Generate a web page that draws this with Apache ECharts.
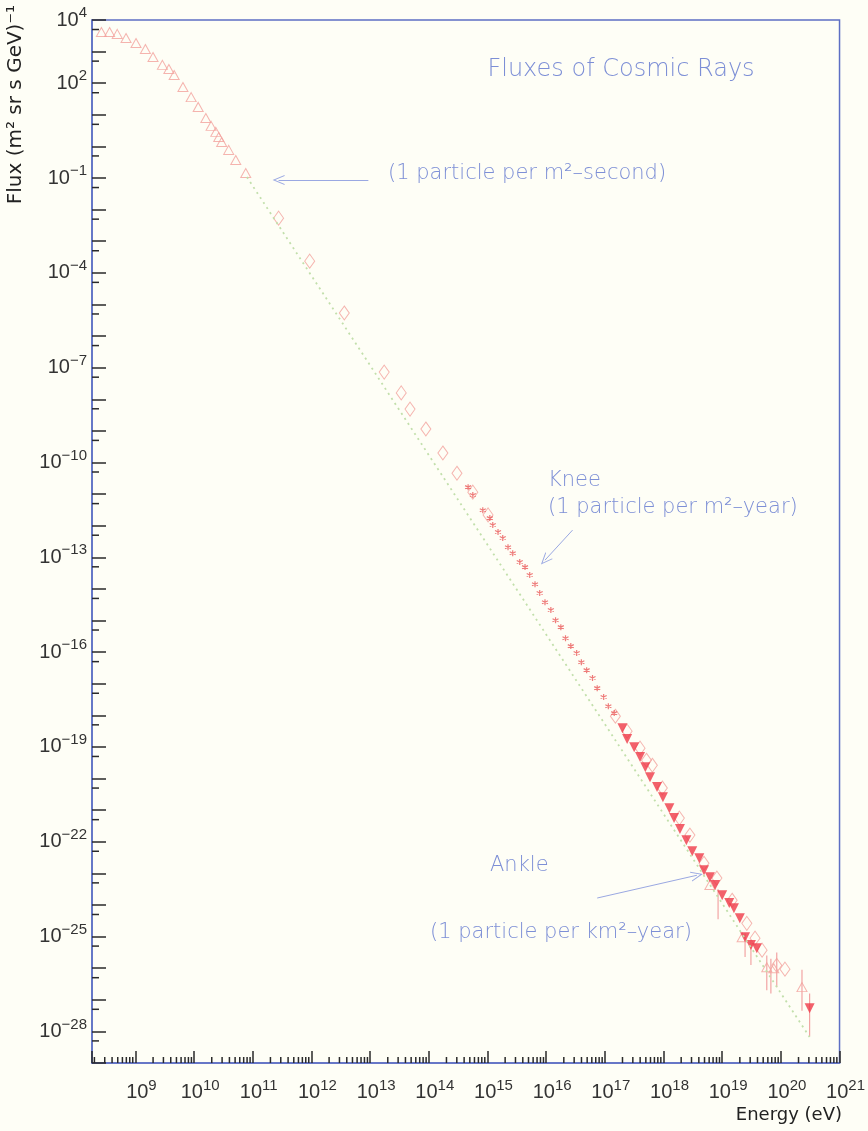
<!DOCTYPE html>
<html><head><meta charset="utf-8">
<script src="https://cdn.jsdelivr.net/npm/echarts@6/dist/echarts.min.js"></script>
<style>html,body{margin:0;padding:0;background:#fefef6}#c{width:868px;height:1131px}</style>
</head><body><div id="c"></div><script>
// ---- axis ranges / tick labels (log10 units) ----
const X_MIN = 8.26, X_MAX = 21;
const Y_MIN = -29, Y_MAX = 4;
const xLabelExps = [9,10,11,12,13,14,15,16,17,18,19,20,21];
const yLabelExps = [4,2,-1,-4,-7,-10,-13,-16,-19,-22,-25,-28];
const xMinorMultipliers = [2,3,4,5,6,7,8,9];
const yMinorMultipliers = [5];

// ---- data: [log10(E/eV), log10(flux)] ----
const openTriangles = [
  [8.42,3.62],[8.56,3.62],[8.69,3.56],[8.84,3.43],[9.01,3.27],[9.17,3.08],[9.30,2.83],
  [9.46,2.58],[9.57,2.45],[9.66,2.26],[9.81,1.88],[9.95,1.56],[10.07,1.25],[10.20,0.90],
  [10.29,0.65],[10.37,0.46],[10.42,0.30],[10.47,0.14],[10.59,-0.11],[10.71,-0.43],[10.88,-0.84],
  [18.79,-23.37],[19.34,-25.02],[19.76,-25.97],[19.88,-26.00],[20.36,-26.60]
];
const openDiamonds = [
  [11.44,-2.27],[11.97,-3.63],[12.56,-5.27],[13.24,-7.14],[13.53,-7.80],[13.68,-8.31],
  [13.95,-8.94],[14.24,-9.70],[14.48,-10.34],[14.75,-10.94],[15.01,-11.66],
  [17.18,-18.03],[17.38,-18.50],[17.60,-19.04],[17.71,-19.42],[17.81,-19.58],[17.98,-20.30],
  [18.27,-21.25],[18.45,-21.79],[18.69,-22.68],[18.91,-23.15],[19.17,-23.85],
  [19.42,-24.58],[19.56,-25.05],[19.68,-25.43],[19.93,-25.91],[20.07,-26.03]
];
const stars = [
  [14.67,-10.78],[14.75,-11.03],[14.92,-11.51],[15.04,-11.76],[15.09,-11.98],[15.18,-12.20],
  [15.26,-12.39],[15.35,-12.68],[15.43,-12.87],[15.55,-13.15],[15.64,-13.31],[15.72,-13.56],
  [15.81,-13.85],[15.89,-14.13],[15.98,-14.42],[16.08,-14.67],[16.16,-14.99],[16.25,-15.21],
  [16.33,-15.56],[16.42,-15.81],[16.52,-16.03],[16.60,-16.32],[16.69,-16.57],[16.79,-16.82],
  [16.87,-17.14],[16.98,-17.42],[17.06,-17.71],[17.16,-17.93]
];
const filledTriangles = [
  [17.30,-18.41],[17.38,-18.75],[17.50,-19.01],[17.60,-19.32],[17.69,-19.64],[17.77,-19.96],
  [17.89,-20.27],[17.99,-20.59],[18.10,-20.94],[18.18,-21.25],[18.28,-21.60],[18.39,-21.95],
  [18.49,-22.30],[18.61,-22.52],[18.69,-22.90],[18.79,-23.12],[18.88,-23.37],[19.00,-23.69],
  [19.12,-23.94],[19.20,-24.10],[19.30,-24.42],[19.39,-25.02],[19.49,-25.27],[19.59,-25.37],
  [20.49,-27.27]
];
// [log10 E, low, high]
const errorBars = [
  [18.93,-24.45,-23.50],[19.39,-25.65,-24.90],[19.49,-25.90,-25.10],[19.76,-26.70,-25.60],
  [19.83,-26.80,-25.70],[19.93,-26.60,-25.50],[20.36,-27.35,-26.05],[20.49,-28.15,-26.80]
];
const refLine = [[10.90,-0.97],[20.49,-28.18]];
// arrows: [from, to]
const arrows = [
  [[12.97,-1.06],[11.44,-1.06]],
  [[16.45,-12.14],[15.98,-13.09]],
  [[16.87,-23.78],[18.57,-23.06]]
];

// ---- derived tick positions ----
const xMinorTicks = [];
for (let n = Math.floor(X_MIN); n < X_MAX; n++) xMinorMultipliers.forEach(k => {
  const v = n + Math.log10(k); if (v > X_MIN && v < X_MAX) xMinorTicks.push([v, Y_MIN]);
});
const yMinorTicks = [];
for (let n = Y_MIN; n <= Y_MAX; n++) yMinorMultipliers.forEach(k => {
  const v = n - 1 + Math.log10(k); if (v > Y_MIN && v < Y_MAX) yMinorTicks.push([X_MIN, v]);
});

const BLUE = '#5d6fc4', TXT_BLUE = '#7d8fd6', TICK = '#2a2a2a';
const SALMON = '#f3a19c', RED = '#ef3a48';
const ANN_FONT = '200 21px "DejaVu Sans"';
const fmtExp = v => String(v).replace('-', '\u2212');
const richLab = {
  b: {fontSize: 20, fontFamily: 'Liberation Sans', color: '#333'},
  s: {fontSize: 15, fontFamily: 'Liberation Sans', color: '#333', padding: [0,0,14,0]}
};
const richLabX = {
  b: {fontSize: 20, fontFamily: 'Liberation Sans', color: '#333', padding: [0,0,0,12]},
  s: {fontSize: 15, fontFamily: 'Liberation Sans', color: '#333', padding: [0,0,14,0]}
};

const chart = echarts.init(document.getElementById('c'), null, {renderer: 'canvas'});
chart.setOption({
  backgroundColor: '#fefef6',
  animation: false,
  grid: {left: 92, right: 25, top: 20, bottom: 68, show: true, borderColor: BLUE, borderWidth: 1.5, backgroundColor: 'transparent'},
  xAxis: {
    type: 'value', min: X_MIN, max: X_MAX, minInterval: 1, maxInterval: 1,
    splitLine: {show: false},
    axisLine: {onZero: false, lineStyle: {color: BLUE, width: 1.5}},
    axisTick: {inside: true, length: 12, lineStyle: {color: TICK, width: 1.5}},
    axisLabel: {
      margin: 15, rich: richLabX,
      formatter: v => (Math.abs(v - Math.round(v)) < 1e-6 && xLabelExps.includes(Math.round(v))) ? '{b|10}{s|' + fmtExp(Math.round(v)) + '}' : ''
    }
  },
  yAxis: {
    type: 'value', min: Y_MIN, max: Y_MAX, interval: 1,
    splitLine: {show: false},
    axisLine: {onZero: false, lineStyle: {color: BLUE, width: 1.5}},
    axisTick: {inside: true, length: 14, lineStyle: {color: TICK, width: 1.5}},
    axisLabel: {
      margin: 5, rich: richLab,
      formatter: v => yLabelExps.includes(v) ? '{b|10}{s|' + fmtExp(v) + '}' : ''
    }
  },
  graphic: [
    {type: 'text', x: 621, y: 70, style: {text: 'Fluxes of Cosmic Rays', font: '200 24px "DejaVu Sans"', fill: TXT_BLUE, align: 'center', verticalAlign: 'middle'}},
    {type: 'text', x: 388, y: 174, style: {text: '(1 particle per m\u00b2\u2013second)', font: ANN_FONT, fill: TXT_BLUE, align: 'left', verticalAlign: 'middle'}},
    {type: 'text', x: 548, y: 481, style: {text: 'Knee', font: ANN_FONT, fill: TXT_BLUE, align: 'left', verticalAlign: 'middle'}},
    {type: 'text', x: 548, y: 508, style: {text: '(1 particle per m\u00b2\u2013year)', font: ANN_FONT, fill: TXT_BLUE, align: 'left', verticalAlign: 'middle'}},
    {type: 'text', x: 490, y: 866, style: {text: 'Ankle', font: ANN_FONT, fill: TXT_BLUE, align: 'left', verticalAlign: 'middle'}},
    {type: 'text', x: 430, y: 933, style: {text: '(1 particle per km\u00b2\u2013year)', font: ANN_FONT, fill: TXT_BLUE, align: 'left', verticalAlign: 'middle'}},
    {type: 'text', x: 842, y: 1115, style: {text: 'Energy (eV)', font: '18px "DejaVu Sans"', fill: '#222', align: 'right', verticalAlign: 'middle'}},
    {type: 'text', x: 16, y: 5, rotation: Math.PI / 2, style: {text: 'Flux (m\u00b2 sr s GeV)\u207b\u00b9', font: '20px "DejaVu Sans"', fill: '#222', align: 'right', verticalAlign: 'middle'}}
  ],
  series: [
    {type: 'line', data: refLine, showSymbol: false, symbol: 'none', silent: true,
     lineStyle: {color: '#c2dfab', width: 1.8, type: [2, 4]},
     markLine: {silent: true, animation: false,
       symbol: ['none', 'path://M5,0L10,12L9,12L5,2.5L1,12L0,12Z'], symbolSize: [10, 12],
       lineStyle: {color: '#9aa8e2', width: 1, type: 'solid'}, label: {show: false},
       data: arrows.map(a => [{coord: a[0]}, {coord: a[1]}])}},
    {type: 'custom', silent: true, data: errorBars, encode: {x: 0, y: [1, 2]},
     renderItem: (p, api) => {
       const a = api.coord([api.value(0), api.value(1)]), b = api.coord([api.value(0), api.value(2)]);
       return {type: 'line', shape: {x1: a[0], y1: a[1], x2: b[0], y2: b[1]}, style: {stroke: '#f2a4a4', lineWidth: 1.2}};
     }},
    {type: 'scatter', data: openTriangles, symbol: 'triangle', symbolSize: [10, 9], silent: true,
     itemStyle: {color: 'rgba(0,0,0,0)', borderColor: SALMON, borderWidth: 1}},
    {type: 'scatter', data: openDiamonds, symbol: 'diamond', symbolSize: [10, 14], silent: true,
     itemStyle: {color: 'rgba(0,0,0,0)', borderColor: SALMON, borderWidth: 1}},
    {type: 'scatter', data: stars, symbol: 'path://M0,-5L0,5M-4.33,-2.5L4.33,2.5M-4.33,2.5L4.33,-2.5', symbolSize: 6, silent: true,
     itemStyle: {color: 'rgba(0,0,0,0)', borderColor: '#ea5a5a', borderWidth: 1.2}},
    {type: 'scatter', data: filledTriangles, symbol: 'triangle', symbolRotate: 180, symbolSize: [10, 10], silent: true,
     itemStyle: {color: RED}},
    {type: 'custom', silent: true, data: xMinorTicks, z: 5,
     renderItem: (p, api) => {
       const c = api.coord([api.value(0), Y_MIN]);
       return {type: 'line', shape: {x1: c[0], y1: c[1], x2: c[0], y2: c[1] - 6}, style: {stroke: TICK, lineWidth: 1.5}};
     }},
    {type: 'custom', silent: true, data: yMinorTicks, z: 5,
     renderItem: (p, api) => {
       const c = api.coord([X_MIN, api.value(1)]);
       return {type: 'line', shape: {x1: c[0], y1: c[1], x2: c[0] + 7, y2: c[1]}, style: {stroke: TICK, lineWidth: 1.5}};
     }}
  ]
});
</script></body></html>
